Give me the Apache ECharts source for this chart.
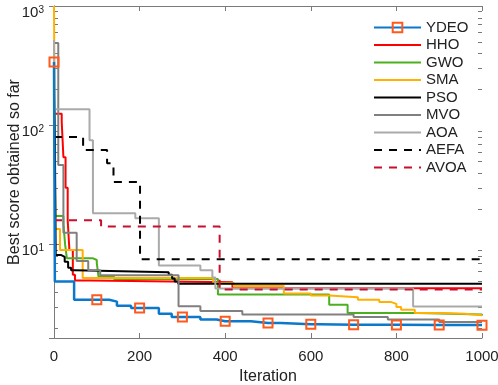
<!DOCTYPE html>
<html>
<head>
<meta charset="utf-8">
<script src="https://cdn.jsdelivr.net/npm/echarts@6/dist/echarts.min.js"></script>
<style>
  html, body { margin: 0; padding: 0; background: #fff; }
  #chart { width: 498px; height: 385px; }
</style>
</head>
<body>
<div id="chart"></div>
<script>
// convergence curves: iteration where the best score changes, and the new best score
const ydeoIter = [0, 2, 47, 129, 147, 180, 245, 275, 342, 380, 460, 530, 620, 800, 1000]
const ydeoScore = [340, 4.9, 3.45, 3.33, 3.07, 2.95, 2.63, 2.47, 2.36, 2.28, 2.2, 2.15, 2.13, 2.12, 2.11]
const ydeoMarkIter = [0, 100, 200, 300, 400, 500, 600, 700, 800, 900, 1000]

const hhoIter = [0, 18, 22, 27, 32, 36, 44, 49, 84, 417, 1000]
const hhoScore = [125, 107, 54, 30, 16, 9, 5.6, 5.0, 4.85, 4.3, 4.3]

const gwoIter = [0, 3, 22, 26, 30, 90, 100, 104, 140, 383, 643, 686, 850, 1000]
const gwoScore = [200, 17.4, 15, 10, 7.7, 7.44, 7.0, 5.4, 5.16, 3.82, 3.14, 2.67, 2.6, 2.55]

const smaIter = [0, 3, 14, 67, 372, 420, 537, 600, 643, 710, 760, 788, 800, 811, 843, 905, 960, 1000]
const smaScore = [1000, 13.5, 9.0, 5.25, 4.76, 4.5, 3.9, 3.75, 3.63, 3.45, 3.3, 3.19, 3.0, 2.84, 2.67, 2.63, 2.56, 2.53]

const psoIter = [0, 2, 4, 16, 25, 33, 40, 49, 268, 276, 282, 290, 1000]
const psoScore = [173, 79, 8.2, 7.9, 7.2, 6.4, 6.1, 5.87, 5.6, 5.2, 4.9, 4.7, 4.7]

const mvoIter = [0, 10, 22, 53, 80, 108, 291, 342, 440, 700, 780, 900, 1000]
const mvoScore = [490, 46.5, 12.6, 7.3, 6.1, 5.55, 3.05, 2.78, 2.6, 2.47, 2.36, 2.25, 2.22]

const aoaIter = [0, 1, 83, 91, 190, 245, 342, 370, 377, 839, 1000]
const aoaScore = [520, 136.5, 75, 18.3, 16.6, 6.7, 6.1, 5.3, 4.28, 3.03, 3.03]

const aefaIter = [0, 68, 124, 139, 201, 1000]
const aefaScore = [80, 62, 48, 33.5, 7.55, 7.55]

const avoaIter = [0, 110, 387, 1000]
const avoaScore = [16, 14.2, 4.2, 4.2]

const yMin = 1.65
const yMax = 1000
// minor ticks of the log axis (2..9 in each decade)
const yMinorTicks = [2, 3, 4, 5, 6, 7, 8, 9, 20, 30, 40, 50, 60, 70, 80, 90, 200, 300, 400, 500, 600, 700, 800, 900]

const font = 'Liberation Sans, Arial, Helvetica, sans-serif'
const axisGray = '#7a7a7a'

const steps = (iter, score) => iter.map((x, i) => [x, score[i]])

// YDEO: step points plus square markers every 100 iterations
const valueAt = (iter, score, x) => {
  let v = score[0]
  iter.forEach((it, i) => { if (it <= x) v = score[i] })
  return v
}
const ydeoX = Array.from(new Set([...ydeoIter, ...ydeoMarkIter])).sort((a, b) => a - b)
const ydeoData = ydeoX.map((x) => {
  const item = { value: [x, valueAt(ydeoIter, ydeoScore, x)] }
  if (!ydeoMarkIter.includes(x)) item.symbol = 'none'
  return item
})

const isPow10 = (v) => Math.abs(Math.log10(v) - Math.round(Math.log10(v))) < 1e-6

// plain step line; the legend symbol is made invisible so only the line shows
const line = (name, data, color, width, type) => ({
  name,
  type: 'line',
  step: 'end',
  data,
  symbol: 'circle',
  showSymbol: false,
  z: 2,
  lineStyle: { color, width, type: type || 'solid' },
  itemStyle: { color: 'rgba(0,0,0,0)' },
  emphasis: { disabled: true },
})

const chart = echarts.init(document.getElementById('chart'))

const ydeoSeries = {
  name: 'YDEO',
  type: 'line',
  step: 'end',
  data: ydeoData,
  symbol: 'rect',
  symbolSize: 9,
  showSymbol: true,
  z: 10,
  lineStyle: { color: '#0b78cc', width: 2.5 },
  itemStyle: { color: 'rgba(255,255,255,0)', borderColor: '#ff5a1e', borderWidth: 2 },
  emphasis: { disabled: true },
}

// short 2..9 ticks on both y sides, placed by the log axis
const minorTickSeries = {
  type: 'custom',
  silent: true,
  z: 1,
  data: yMinorTicks.map((v) => [0, v]),
  renderItem: (params, api) => {
    const cs = params.coordSys
    const y = Math.round(api.coord([0, api.value(1)])[1]) + 0.5
    const style = { stroke: axisGray, lineWidth: 1 }
    return {
      type: 'group',
      children: [
        { type: 'line', shape: { x1: cs.x, y1: y, x2: cs.x + 4, y2: y }, style },
        { type: 'line', shape: { x1: cs.x + cs.width - 4, y1: y, x2: cs.x + cs.width, y2: y }, style },
      ],
    }
  },
}

const yLog = (extra) => Object.assign({
  type: 'log',
  logBase: 10,
  min: yMin,
  max: yMax,
  axisLine: { lineStyle: { color: axisGray, width: 1 } },
  axisTick: { inside: true, length: 5, lineStyle: { color: axisGray } },
  splitLine: { show: false },
}, extra)

chart.setOption({
  animation: false,
  textStyle: { fontFamily: font },
  grid: { left: 54, right: 16, top: 6, bottom: 47, outerBoundsMode: 'none', containLabel: false },
  legend: {
    orient: 'vertical',
    left: 373,
    top: 20,
    padding: 0,
    itemWidth: 47,
    itemHeight: 12,
    itemGap: 2.5,
    selectedMode: false,
    textStyle: { fontSize: 15, color: '#222', fontFamily: font },
    data: ['YDEO', 'HHO', 'GWO', 'SMA', 'PSO', 'MVO', 'AOA', 'AEFA', 'AVOA'],
  },
  xAxis: [
    {
      type: 'value',
      min: 0,
      max: 1000,
      interval: 200,
      name: 'Iteration',
      nameLocation: 'middle',
      nameGap: 27,
      nameTextStyle: { fontSize: 16, color: '#222', fontFamily: font },
      axisLine: { lineStyle: { color: axisGray, width: 1 } },
      axisTick: { inside: true, length: 5, lineStyle: { color: axisGray } },
      axisLabel: { fontSize: 15, color: '#222', margin: 11, fontFamily: font, formatter: (v) => String(v) },
      splitLine: { show: false },
    },
    {
      type: 'value',
      position: 'top',
      min: 0,
      max: 1000,
      interval: 200,
      axisLine: { lineStyle: { color: axisGray, width: 1 } },
      axisTick: { inside: true, length: 5, lineStyle: { color: axisGray } },
      axisLabel: { show: false },
      splitLine: { show: false },
    },
  ],
  yAxis: [
    yLog({
      name: 'Best score obtained so far',
      nameLocation: 'middle',
      nameGap: 31,
      nameMoveOverlap: false,
      nameRotate: 90,
      nameTextStyle: { fontSize: 16, color: '#222', fontFamily: font },
      axisLabel: {
        margin: 10,
        padding: [13, 0, 0, 0],
        formatter: (v) => (isPow10(v) ? '{b|10}{s|' + Math.round(Math.log10(v)) + '}' : ''),
        rich: {
          b: { fontSize: 15, color: '#222', fontFamily: font },
          s: { fontSize: 10, color: '#222', fontFamily: font, padding: [0, 0, 5, 0] },
        },
      },
    }),
    yLog({ position: 'right', axisLabel: { show: false } }),
  ],
  series: [
    minorTickSeries,
    ydeoSeries,
    line('HHO', steps(hhoIter, hhoScore), '#ff0000', 2),
    line('GWO', steps(gwoIter, gwoScore), '#4caf1f', 2),
    line('SMA', steps(smaIter, smaScore), '#ffb000', 2),
    line('PSO', steps(psoIter, psoScore), '#000000', 2),
    line('MVO', steps(mvoIter, mvoScore), '#808080', 2),
    line('AOA', steps(aoaIter, aoaScore), '#aaaaaa', 2),
    line('AEFA', steps(aefaIter, aefaScore), '#000000', 2, [8, 7]),
    line('AVOA', steps(avoaIter, avoaScore), '#c8102e', 2, [8, 7]),
  ],
})
</script>
</body>
</html>
